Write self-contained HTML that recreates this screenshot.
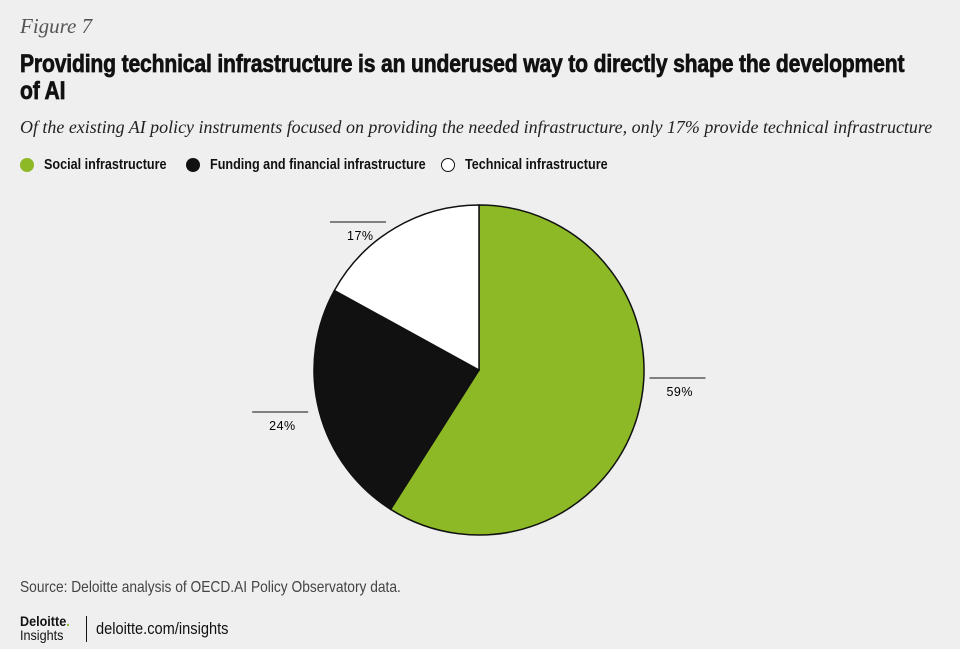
<!DOCTYPE html>
<html><head><meta charset="utf-8"><style>
body{margin:0;width:960px;height:649px;background:#efefef;overflow:hidden;position:relative;font-family:"Liberation Sans",sans-serif;color:#111}
.abs{position:absolute;white-space:nowrap;transform-origin:0 0}
#fig{left:20px;top:14px;font-family:"Liberation Serif",serif;font-style:italic;font-size:21px;color:#555}
.title{left:20px;font-weight:bold;font-size:25px;line-height:27px;transform:scaleX(0.845);letter-spacing:-0.2px;-webkit-text-stroke:0.7px #111}
#sub{left:20px;top:117px;font-family:"Liberation Serif",serif;font-style:italic;font-size:17.95px;color:#222}
.leg{top:156px;font-weight:bold;font-size:15px;display:flex;align-items:center}
.leg span.t{display:inline-block;transform:scaleX(0.84);transform-origin:0 50%}
.dot{width:14px;height:14px;border-radius:50%;margin-right:10px;box-sizing:border-box}
#src{left:20px;top:579px;font-size:16px;color:#444;transform:scaleX(0.86)}
</style></head><body>
<div class="abs" id="fig">Figure 7</div>
<div class="abs title" style="top:51px">Providing technical infrastructure is an underused way to directly shape the development</div>
<div class="abs title" style="top:78px">of AI</div>
<div class="abs" id="sub">Of the existing AI policy instruments focused on providing the needed infrastructure, only 17% provide technical infrastructure</div>
<div class="abs leg" style="left:20px"><span class="dot" style="background:#8cb925"></span><span class="t">Social infrastructure</span></div>
<div class="abs leg" style="left:186px"><span class="dot" style="background:#111"></span><span class="t">Funding and financial infrastructure</span></div>
<div class="abs leg" style="left:441px"><span class="dot" style="background:#fff;border:1.5px solid #111"></span><span class="t">Technical infrastructure</span></div>
<svg class="abs" style="left:0;top:0" width="960" height="649" id="chart"></svg>
<div class="abs" id="src">Source: Deloitte analysis of OECD.AI Policy Observatory data.</div>
<div class="abs" style="left:20px;top:614px;font-weight:bold;font-size:14px;line-height:14px;transform:scaleX(0.9)">Deloitte<span style="color:#8cb925">.</span><br><span style="font-weight:normal;font-size:14px">Insights</span></div>
<div class="abs" style="left:86px;top:616px;width:1px;height:26px;background:#111"></div>
<div class="abs" style="left:96px;top:619px;font-size:17px;transform:scaleX(0.86)">deloitte.com/insights</div>
<script>
const categories=["Social infrastructure","Funding and financial infrastructure","Technical infrastructure"];
const values=[59,24,17];
const labels=["59%","24%","17%"];
const colors=["#8cb925","#111111","#ffffff"];
const svg=document.getElementById('chart');const NS="http://www.w3.org/2000/svg";
const cx=479,cy=370,r=165;
// callout offsets (layout only) relative to slice mid-point on the rim
const calloutDx=[12,-67,-65];
const calloutDy=[-38,1,-6];
const total=values.reduce((a,b)=>a+b,0);
let a0=0;
function pt(a,rr){return [cx+rr*Math.sin(a),cy-rr*Math.cos(a)];}
values.forEach((v,i)=>{
 const a1=a0+v/total*2*Math.PI;
 const p0=pt(a0,r),p1=pt(a1,r);
 const path=document.createElementNS(NS,'path');
 path.setAttribute('d',`M${cx},${cy}L${p0[0]},${p0[1]}A${r},${r} 0 ${a1-a0>Math.PI?1:0} 1 ${p1[0]},${p1[1]}Z`);
 path.setAttribute('fill',colors[i]);
 path.setAttribute('stroke','#111');path.setAttribute('stroke-width','1.5');
 
 
 svg.appendChild(path);
 const mid=(a0+a1)/2;const q=pt(mid,r);
 const lx=q[0]+calloutDx[i], ly=q[1]+calloutDy[i];
 const ln=document.createElementNS(NS,'line');
 ln.setAttribute('x1',lx);ln.setAttribute('x2',lx+56);ln.setAttribute('y1',ly);ln.setAttribute('y2',ly);
 ln.setAttribute('stroke','#111');
 
 
 svg.appendChild(ln);
 const t=document.createElementNS(NS,'text');
 t.setAttribute('x',lx+17);t.setAttribute('y',ly+18);
 t.setAttribute('font-size','12.5');t.setAttribute('font-family','Liberation Sans, sans-serif');
 t.setAttribute('textLength','26');
 t.textContent=labels[i];
 
 
 svg.appendChild(t);
 a0=a1;
});
</script>
</body></html>
